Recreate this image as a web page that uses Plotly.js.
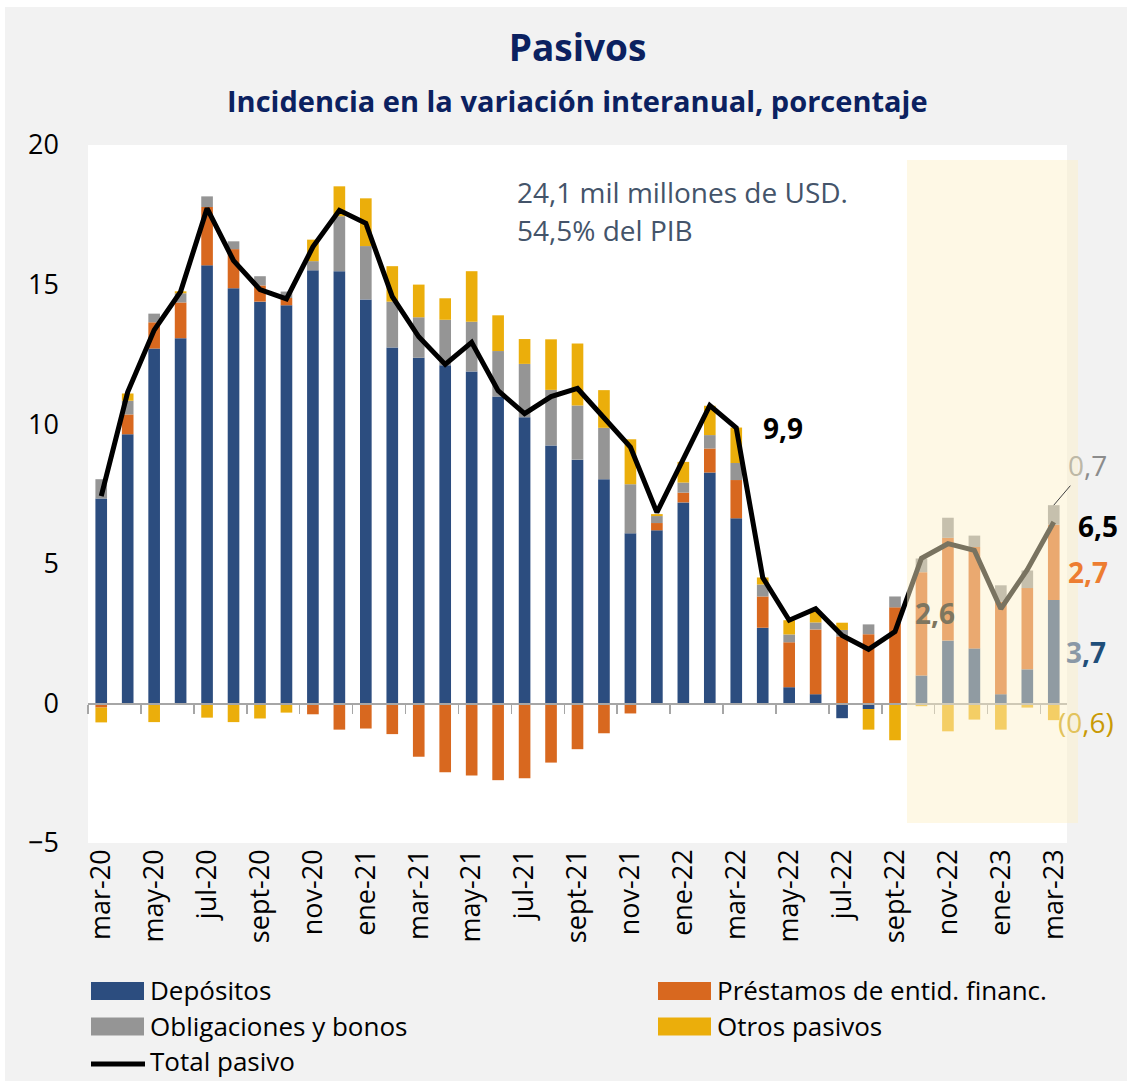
<!DOCTYPE html>
<html>
<head>
<meta charset="utf-8">
<script src="https://cdn.plot.ly/plotly-3.0.1.min.js"></script>
<style>
  html, body { margin: 0; padding: 0; background: #F2F2F2; }
  #chart { width: 1127px; height: 1081px; }
</style>
</head>
<body>
<div id="chart"></div>
<script>
const categories = ['mar-20','abr-20','may-20','jun-20','jul-20','ago-20','sept-20','oct-20','nov-20','dic-20',
  'ene-21','feb-21','mar-21','abr-21','may-21','jun-21','jul-21','ago-21','sept-21','oct-21','nov-21','dic-21',
  'ene-22','feb-22','mar-22','abr-22','may-22','jun-22','jul-22','ago-22','sept-22','oct-22','nov-22','dic-22',
  'ene-23','feb-23','mar-23'];

const depositos = [7.34, 9.64, 12.71, 13.08, 15.69, 14.87, 14.39, 14.26, 15.51, 15.48,
  14.47, 12.75, 12.38, 12.11, 11.89, 10.99, 10.25, 9.24, 8.73, 8.03, 6.09, 6.20,
  7.20, 8.27, 6.63, 2.71, 0.58, 0.33, -0.53, -0.20, 0.00, 1.00, 2.25, 1.97,
  0.33, 1.22, 3.70];

const prestamos = [-0.15, 0.71, 0.94, 1.28, 2.09, 1.40, 0.58, 0.26, -0.39, -0.94,
  -0.90, -1.10, -1.91, -2.47, -2.58, -2.75, -2.68, -2.12, -1.64, -1.07, -0.36, 0.26,
  0.35, 0.86, 1.37, 1.12, 1.61, 2.32, 2.40, 2.48, 3.44, 3.70, 3.68, 3.63,
  3.31, 2.91, 2.70];

const obligaciones = [0.69, 0.49, 0.31, 0.33, 0.38, 0.28, 0.33, 0.23, 0.33, 1.97,
  1.91, 1.64, 1.45, 1.63, 1.78, 1.63, 1.91, 1.99, 1.94, 1.84, 1.76, 0.25,
  0.36, 0.48, 0.61, 0.43, 0.28, 0.25, 0.23, 0.35, 0.39, 0.49, 0.72, 0.41,
  0.59, 0.63, 0.70];

const otros = [-0.53, 0.26, -0.67, 0.07, -0.51, -0.67, -0.54, -0.33, 0.77, 1.07,
  1.71, 1.27, 1.17, 0.77, 1.81, 1.28, 0.89, 1.81, 2.22, 1.35, 1.61, 0.07,
  0.74, 1.05, 1.27, 0.25, 0.51, 0.41, 0.26, -0.74, -1.32, -0.10, -1.00, -0.58,
  -0.94, -0.15, -0.60];

const totalPasivo = [7.42, 11.15, 13.37, 14.75, 17.73, 15.86, 14.82, 14.49, 16.35, 17.66,
  17.20, 14.57, 13.13, 12.14, 12.93, 11.20, 10.38, 10.99, 11.28, 10.21, 9.18, 6.84,
  8.77, 10.67, 9.87, 4.51, 2.98, 3.39, 2.43, 1.94, 2.57, 5.20, 5.72, 5.48,
  3.39, 4.79, 6.50];

const tickLabels = categories.filter((c, i) => i % 2 === 0);

const seriesNames = ['Depósitos', 'Préstamos de entid. financ.', 'Obligaciones y bonos', 'Otros pasivos', 'Total pasivo'];
const seriesColors = ['#2C4D7F', '#D8681F', '#959595', '#EBAE0B', '#000000'];

const FONT = 'Open Sans, Lato, sans-serif';
const fmt = v => Math.abs(v).toFixed(1).replace('.', ',');
const last = categories.length - 1;
const lastCat = categories[last];

// page geometry (pixels) -> paper fractions
const W = 1127, H = 1081, ML = 88, MR = 60, MT = 145, MB = 238;
const PW = W - ML - MR, PH = H - MT - MB;
const px = x => (x - ML) / PW;
const py = y => (H - MB - y) / PH;

function barTrace(i, values) {
  return {
    type: 'bar', name: seriesNames[i], x: categories, y: values,
    marker: { color: seriesColors[i], line: { width: 0 } },
    hoverinfo: 'x+y+name'
  };
}

const traces = [
  barTrace(0, depositos),
  barTrace(1, prestamos),
  barTrace(2, obligaciones),
  barTrace(3, otros),
  {
    type: 'scatter', mode: 'lines', name: seriesNames[4], x: categories, y: totalPasivo,
    line: { color: seriesColors[4], width: 5 }
  },
  {
    type: 'scatter', mode: 'lines', x: categories.map((c, i) => i), y: totalPasivo,
    xaxis: 'x2', yaxis: 'y', opacity: 0, showlegend: false, hoverinfo: 'skip',
    line: { width: 0 }
  }
];

const annotations = [
  { xref: 'paper', yref: 'paper', x: px(515), y: py(192), xanchor: 'left', yanchor: 'middle',
    text: '24,1 mil millones de USD.', showarrow: false,
    font: { family: FONT, size: 28, color: '#44546A' } },
  { xref: 'paper', yref: 'paper', x: px(515), y: py(230), xanchor: 'left', yanchor: 'middle',
    text: '54,5% del PIB', showarrow: false,
    font: { family: FONT, size: 28, color: '#44546A' } },
  { xref: 'paper', yref: 'paper', x: 0.5, y: py(100), xanchor: 'center', yanchor: 'middle',
    text: '<b>Incidencia en la variación interanual, porcentaje</b>', showarrow: false,
    font: { family: FONT, size: 29, color: '#0B2160' } },
  { x: categories[24], y: totalPasivo[24], xshift: 47, yshift: 0, showarrow: false,
    text: '<b>' + fmt(totalPasivo[24]) + '</b>',
    font: { family: FONT, size: 28, color: '#000000' } },
  { x: categories[30], y: totalPasivo[30], xshift: 40, yshift: 19, showarrow: false,
    text: '<b>' + fmt(totalPasivo[30]) + '</b>',
    font: { family: FONT, size: 28, color: '#7E765F' } },
  { x: lastCat, y: totalPasivo[last], xshift: 44, yshift: -4, showarrow: false,
    text: '<b>' + fmt(totalPasivo[last]) + '</b>',
    font: { family: FONT, size: 28, color: '#000000' } },
  { x: lastCat, y: depositos[last] + prestamos[last] + obligaciones[last],
    ax: 34, ay: -40, showarrow: true, arrowhead: 0, arrowwidth: 1, arrowcolor: '#404040', standoff: 0,
    text: '<span style="color:#BDB8A6">' + fmt(obligaciones[last]).charAt(0) + '</span>' + fmt(obligaciones[last]).slice(1),
    font: { family: FONT, size: 28, color: '#8C8C8C' } },
  { x: lastCat, y: depositos[last] + prestamos[last] / 2, xshift: 34, yshift: -10, showarrow: false,
    text: '<b>' + fmt(prestamos[last]) + '</b>',
    font: { family: FONT, size: 28, color: '#ED7D31' } },
  { x: lastCat, y: depositos[last] / 2, xshift: 32, yshift: 0, showarrow: false,
    text: '<b><span style="color:#8A98A6">' + fmt(depositos[last]).charAt(0) + '</span>' + fmt(depositos[last]).slice(1) + '</b>',
    font: { family: FONT, size: 28, color: '#1F4E79' } },
  { x: lastCat, y: otros[last] / 2, xshift: 32, yshift: -10, showarrow: false,
    text: '<span style="color:#E2C35C">(' + fmt(otros[last]).charAt(0) + '</span>' + fmt(otros[last]).slice(1) + ')',
    font: { family: FONT, size: 28, color: '#C99A06' } }
];

// frame strips of the original picture
const shapes = [
  { type: 'rect', xref: 'paper', yref: 'paper', layer: 'below',
    x0: px(0), x1: px(W), y0: py(7), y1: py(0), fillcolor: '#FFFFFF', line: { width: 0 } },
  { type: 'rect', xref: 'paper', yref: 'paper', layer: 'below',
    x0: px(0), x1: px(5), y0: py(H), y1: py(0), fillcolor: '#FFFFFF', line: { width: 0 } },
  // forecast shading (drawn above the marks)
  { type: 'rect', xref: 'paper', yref: 'paper', layer: 'above',
    x0: px(907), x1: px(1078), y0: py(823), y1: py(160),
    fillcolor: 'rgba(252,240,200,0.48)', line: { width: 0 } }
];

// legend drawn as swatches + text, two columns
const legendCols = [91, 658];
const legendRows = [990, 1025.5, 1061];
seriesNames.forEach((name, i) => {
  const col = legendCols[i % 2], row = legendRows[Math.floor(i / 2)];
  if (i < 4) {
    shapes.push({ type: 'rect', xref: 'paper', yref: 'paper',
      x0: px(col), x1: px(col + 53), y0: py(row + 10), y1: py(row - 8),
      fillcolor: seriesColors[i], line: { width: 0 } });
  } else {
    shapes.push({ type: 'line', xref: 'paper', yref: 'paper',
      x0: px(col), x1: px(col + 54), y0: py(row + 3), y1: py(row + 3),
      line: { color: seriesColors[i], width: 5 } });
  }
  annotations.push({ xref: 'paper', yref: 'paper', x: px(col + 58), y: py(row),
    xanchor: 'left', yanchor: 'middle', showarrow: false, text: name, borderpad: 0,
    font: { family: FONT, size: 26, color: '#000000' } });
});

const layout = {
  width: W, height: H,
  paper_bgcolor: '#F2F2F2', plot_bgcolor: '#FFFFFF',
  margin: { l: ML, r: MR, t: MT, b: MB },
  barmode: 'relative', bargap: 0.56,
  showlegend: false,
  title: {
    text: '<b>Pasivos</b>', x: 0.5, xref: 'paper', xanchor: 'center',
    y: 1 - 48 / H, yref: 'container', yanchor: 'middle',
    font: { family: FONT, size: 37, color: '#0B2160' }
  },
  xaxis: {
    type: 'category', categoryorder: 'array', categoryarray: categories,
    range: [-0.5, categories.length - 0.5],
    tickmode: 'array', tickvals: tickLabels, ticktext: tickLabels,
    tickangle: -90, ticks: '', showline: false, showgrid: false, zeroline: false,
    automargin: false,
    tickfont: { family: FONT, size: 27, color: '#000000' }
  },
  xaxis2: {
    overlaying: 'x', anchor: 'free', position: 0.2, side: 'bottom',
    type: 'linear', range: [-0.5, categories.length - 0.5], autorange: false,
    tickmode: 'linear', tick0: -0.5, dtick: 2,
    ticks: 'outside', ticklen: 9, tickwidth: 1.5, tickcolor: '#A6A6A6',
    showline: true, linecolor: '#A6A6A6', linewidth: 1.5,
    showticklabels: false, showgrid: false, zeroline: false
  },
  yaxis: {
    range: [-5, 20], tickmode: 'linear', tick0: -5, dtick: 5,
    showgrid: false, zeroline: false, showline: false, ticks: '',
    ticklabelstandoff: 28, automargin: false,
    tickfont: { family: FONT, size: 27, color: '#000000' }
  },
  shapes: shapes,
  annotations: annotations
};

Plotly.newPlot('chart', traces, layout, { displayModeBar: false, staticPlot: true });
</script>
</body>
</html>
